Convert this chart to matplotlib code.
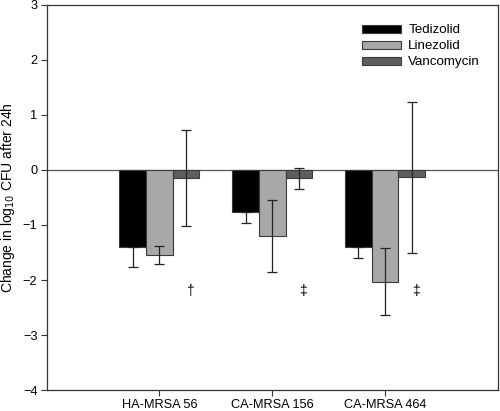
import numpy as np
import matplotlib as mpl; mpl.use('Agg')
import matplotlib.pyplot as plt
plt.rcParams.update({'font.family':['Liberation Sans','DejaVu Sans'],'font.size':9.2})

strains=['HA-MRSA 56','CA-MRSA 156','CA-MRSA 464']
drugs=['Tedizolid','Linezolid','Vancomycin']
ted=[-1.40,-0.76,-1.40]; ted_err=[0.37,0.21,0.20]
lin=[-1.55,-1.20,-2.03]; lin_err=[0.16,0.65,0.61]
van=[-0.15,-0.15,-0.13]; van_err=[0.87,0.19,1.37]
marks=['†','‡','‡']
mark_y=-2.2

fig=plt.figure(figsize=(5,4.11),dpi=100)
ax=fig.add_axes([0.093,0.051,0.903,0.937])
x=np.arange(1,len(strains)+1); w=0.236
cols=['#000000','#a8a8a8','#5e5e5e']
for i,(v,e,c,lab) in enumerate(zip([ted,lin,van],[ted_err,lin_err,van_err],cols,drugs)):
    ax.bar(x+(i-1)*w,v,w,color=c,edgecolor='#3a3a3a',lw=0.8,label=lab,zorder=2)
    # tedizolid: upper half hidden inside black bar
    yerr=[e,[0]*len(e)] if i==0 else e
    ax.errorbar(x+(i-1)*w,v,yerr=yerr,fmt='none',ecolor='#222222',elinewidth=0.9,capsize=3.3,capthick=0.9,zorder=3)
ax.axhline(0,color='#555555',lw=0.9,zorder=1)
for xi,m in zip(x,marks):
    ax.text(xi+0.27,mark_y,m,ha='center',va='center',fontsize=10)
ax.set_xlim(0,4); ax.set_ylim(-4,3)
ax.set_xticks(x); ax.set_xticklabels(strains)
ax.set_yticks(range(-4,4))
ax.tick_params(direction='out',length=4,width=0.8,color='#333333',pad=2.5)
for s in ax.spines.values(): s.set_color('#333333'); s.set_linewidth(0.9)
ax.set_ylabel('Change in log$_{10}$ CFU after 24h',fontsize=10,labelpad=4)
ax.legend(loc='upper right',bbox_to_anchor=(0.978,0.97),frameon=False,handlelength=2.9,handleheight=0.5,
          fontsize=9.6,labelspacing=0.3,handletextpad=0.55,borderaxespad=0.2)
plt.savefig('out.png',dpi=100)
